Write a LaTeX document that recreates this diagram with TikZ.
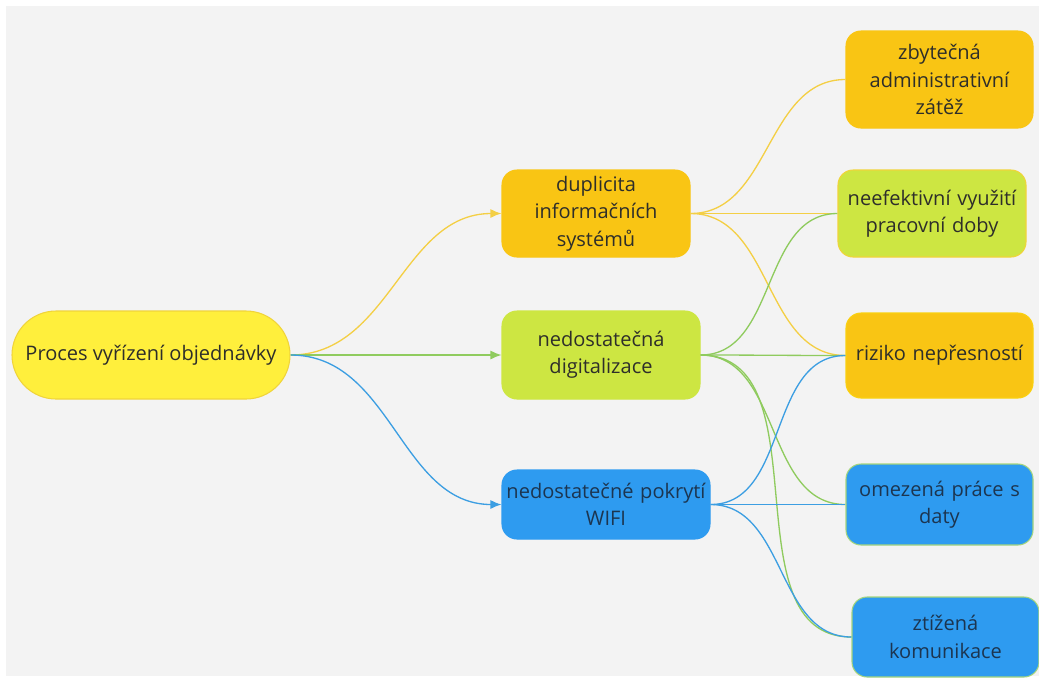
\documentclass[tikz,border=0pt]{standalone}
\usepackage{xcolor}
\usepackage{fontspec}
\setmainfont{Open Sans}
\usepackage{tikz}
\usetikzlibrary{arrows.meta,positioning,backgrounds}

\definecolor{rootfill}{HTML}{FFEF3C}
\definecolor{rootdraw}{HTML}{F0D43A}
\definecolor{orfill}{HTML}{F9C514}
\definecolor{limefill}{HTML}{CDE642}
\definecolor{bluefill}{HTML}{2E9BF0}
\definecolor{yline}{HTML}{F3CF45}
\definecolor{gline}{HTML}{8FCB5E}
\definecolor{bline}{HTML}{3C9EE2}
\definecolor{txt}{HTML}{2E2E2A}
\definecolor{bluetxt}{HTML}{1C3550}
\definecolor{bgfill}{HTML}{F3F3F3}

\begin{document}
\begin{tikzpicture}[
	font=\fontsize{11.4}{15.6}\selectfont,
	block/.style={rounded corners=0.3cm, line width=0.6pt, align=center, inner sep=0pt, text=txt},
	orblock/.style={block, fill=orfill, draw=orfill},
	limeblock/.style={block, fill=limefill, draw=limefill},
	blueblock/.style={block, fill=bluefill, draw=bluefill, text=bluetxt},
	arr/.style={-{Latex[length=2.2mm,width=1.8mm]}, line width=0.75pt},
	link/.style={line width=0.75pt, out=0, in=180}
	]
	% background
	\begin{scope}[on background layer]
		\fill[white] (0,0) rectangle (20.78,-13.64);
		\fill[bgfill] (0.12,-0.12) rectangle (20.78,-13.52);
	\end{scope}
	\useasboundingbox (0,0) rectangle (20.78,-13.64);

	% main process
	\node[block, fill=rootfill, draw=rootdraw, rounded corners=0.88cm, minimum width=5.56cm, minimum height=1.76cm] (proc) at (3.02,-7.10) {Proces vyřízení objednávky};

	% causes
	\node[orblock, minimum width=3.76cm, minimum height=1.74cm, text width=3.6cm] (dup) at (11.92,-4.27) {duplicita\\informačních\\systémů};
	\node[limeblock, minimum width=3.96cm, minimum height=1.76cm, text width=3.8cm] (dig) at (12.02,-7.10) {nedostatečná\\digitalizace};
	\node[blueblock, minimum width=4.16cm, minimum height=1.38cm, text width=4.1cm] (wifi) at (12.12,-10.09) {nedostatečné pokrytí\\WIFI};

	% consequences
	\node[orblock, minimum width=3.74cm, minimum height=1.94cm, text width=3.6cm] (admin) at (18.79,-1.59) {zbytečná\\administrativní\\zátěž};
	\node[limeblock, draw=rootdraw, minimum width=3.76cm, minimum height=1.74cm, text width=3.7cm] (doba) at (18.64,-4.27) {neefektivní využití\\pracovní doby};
	\node[orblock, draw=orfill!80!yellow, minimum width=3.74cm, minimum height=1.70cm, text width=3.6cm] (riz) at (18.79,-7.11) {riziko nepřesností};
	\node[blueblock, draw=gline!80!white, minimum width=3.74cm, minimum height=1.62cm, text width=3.6cm] (data) at (18.79,-10.09) {omezená práce s\\daty};
	\node[blueblock, draw=gline!80!white, minimum width=3.74cm, minimum height=1.60cm, text width=3.6cm] (kom) at (18.91,-12.74) {ztížená\\komunikace};

	% first level
	\draw[arr, yline] (proc.east) to[out=0, in=180] (dup.west);
	\draw[arr, gline] (proc.east) -- (dig.west);
	\draw[arr, bline] (proc.east) to[out=0, in=180] (wifi.west);

	% second level
	\draw[link, yline] (dup.east) to (admin.west);
	\draw[link, yline] (dup.east) to (doba.west);
	\draw[link, yline] (dup.east) to (riz.west);
	\draw[link, gline] (dig.east) to (doba.west);
	\draw[link, gline] (dig.east) to (riz.west);
	\draw[link, gline] (dig.east) to (data.west);
	\draw[link, gline] (dig.east) to (kom.west);
	\draw[link, bline] (wifi.east) to (riz.west);
	\draw[link, bline] (wifi.east) to (data.west);
	\draw[link, bline] (wifi.east) to (kom.west);
\end{tikzpicture}
\end{document}
